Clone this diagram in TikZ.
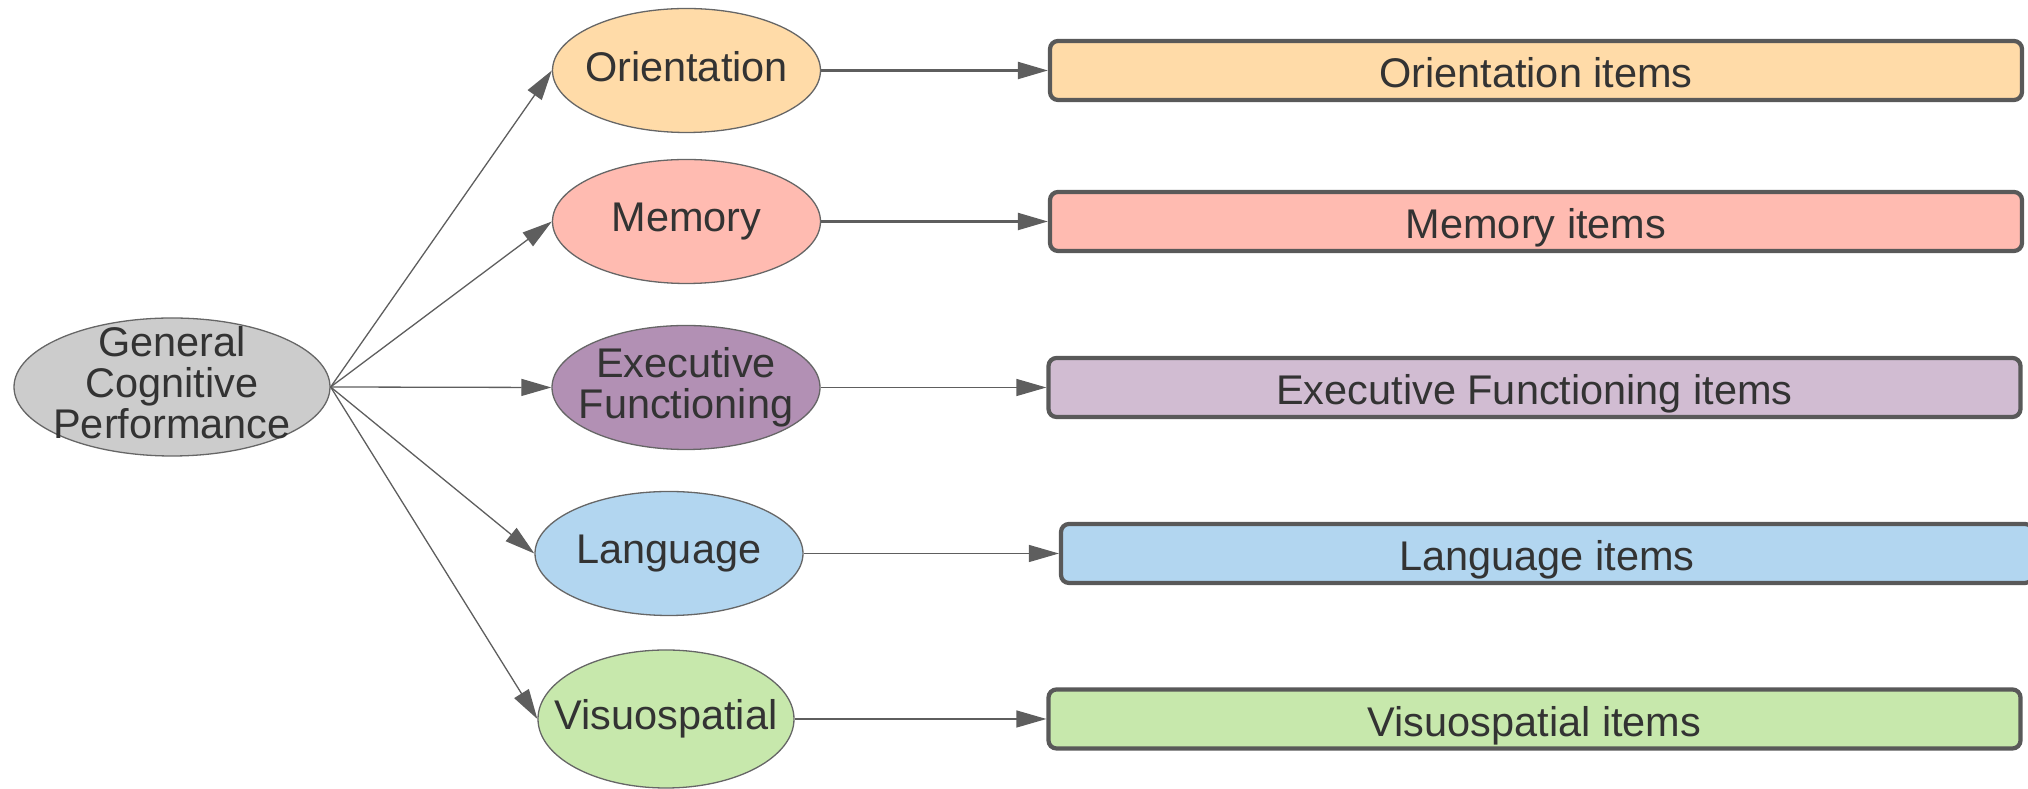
\documentclass[tikz,border=0pt]{standalone}
\usepackage{fontspec}
\setmainfont{Liberation Sans}
\usetikzlibrary{shapes, arrows.meta}

\definecolor{lineg}{HTML}{666666}
\definecolor{arrg}{HTML}{5E5E5E}
\definecolor{boxg}{HTML}{595959}
\definecolor{txtg}{HTML}{333333}
\definecolor{gencol}{HTML}{CCCCCC}
\definecolor{oricol}{HTML}{FFDBA8}
\definecolor{memcol}{HTML}{FFBBB1}
\definecolor{execol}{HTML}{B290B4}
\definecolor{exebox}{HTML}{D1BCD2}
\definecolor{lancol}{HTML}{B2D6F0}
\definecolor{viscol}{HTML}{C7E8AC}

\begin{document}
\begin{tikzpicture}[font=\fontsize{11.8}{11.8}\selectfont, text=txtg,
  >={Triangle[length=0.3cm, width=0.17cm]},
  factor/.style={draw=lineg, line width=0.37pt, ellipse, align=center,
    inner xsep=-0.25cm, inner ysep=-0.2cm, text depth=0.09cm,
    minimum width=2.68cm, minimum height=1.24cm},
  items/.style={draw=boxg, line width=1.2pt, rounded corners=0.08cm,
    minimum width=9.72cm, minimum height=0.59cm, inner sep=0pt,
    text height=0.35cm, text depth=0cm},
  link/.style={->, draw=arrg, line width=0.37pt}]

  \useasboundingbox (0,0) rectangle (20.28,-7.89);

  % latent factors
  \node[factor, fill=gencol, minimum width=3.16cm, minimum height=1.38cm]
    (gcp) at (1.72,-3.87) {General\\Cognitive\\Performance};
  \node[factor, fill=oricol] (orient) at (6.865,-0.705) {Orientation};
  \node[factor, fill=memcol] (mem) at (6.865,-2.215) {Memory};
  \node[factor, fill=execol] (exec) at (6.86,-3.875) {Executive\\Functioning};
  \node[factor, fill=lancol] (lang) at (6.69,-5.535) {Language};
  \node[factor, fill=viscol, minimum width=2.56cm, minimum height=1.38cm]
    (visuo) at (6.66,-7.19) {Visuospatial};

  % item boxes
  \foreach \N/\X/\Y/\C/\T in {orient/15.36/0.705/oricol/Orientation,
                              mem/15.36/2.215/memcol/Memory,
                              exec/15.345/3.875/exebox/Executive Functioning,
                              lang/15.47/5.535/lancol/Language,
                              visuo/15.345/7.19/viscol/Visuospatial} {
    \node[items, fill=\C] (\N-box) at (\X,-\Y) {\T\ items};
  }

  \foreach \N in {orient, mem, exec, lang, visuo} {
    \draw[link] (gcp.east) -- (\N.west);
  }

  \draw[link, line width=0.6pt] (orient.east) -- (orient-box.west);
  \draw[link, line width=0.6pt] (mem.east) -- (mem-box.west);
  \draw[link] (exec.east) -- (exec-box.west);
  \draw[link] (lang.east) -- (lang-box.west);
  \draw[link] (visuo.east) -- (visuo-box.west);
\end{tikzpicture}
\end{document}
